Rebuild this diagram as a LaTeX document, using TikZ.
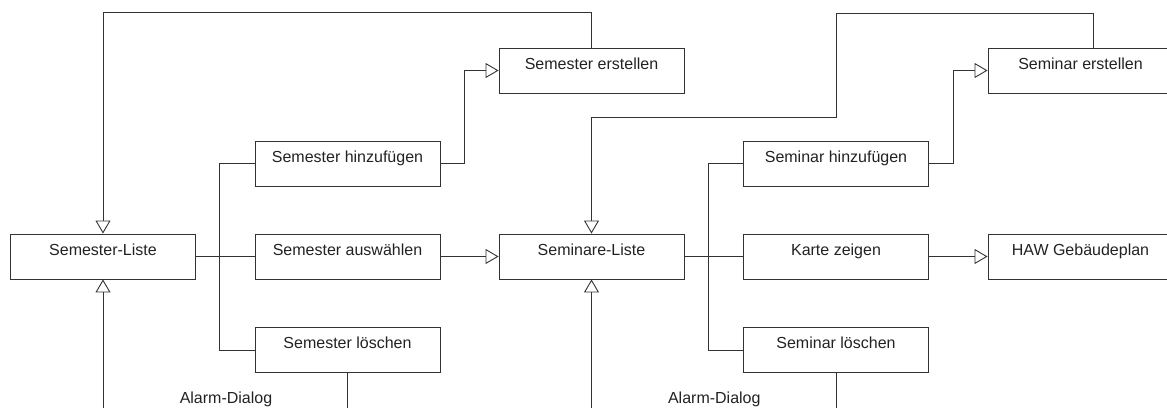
\documentclass[tikz,border=0pt]{standalone}
\usepackage{fontspec}
\setmainfont{Liberation Sans}
\usetikzlibrary{arrows.meta}
\definecolor{linec}{HTML}{333333}
\definecolor{textc}{HTML}{222222}
\tikzset{
  box/.style={draw=linec, line width=0.9pt, rectangle, minimum width=185pt, inner xsep=0pt, inner ysep=0pt,
    text height=21pt, text depth=24pt, font=\fontsize{16pt}{19pt}\selectfont, text=textc},
  conn/.style={draw=linec, line width=0.9pt},
  tri/.style={conn, -{Triangle[open, length=13pt, width=15pt, line width=0.9pt]}},
  lbl/.style={font=\fontsize{16pt}{19pt}\selectfont, text=textc, anchor=base, inner sep=0pt}
}
\begin{document}
\begin{tikzpicture}[x=1pt,y=-1pt]
\useasboundingbox (0,0) rectangle (1167,407);
\clip (0,0) rectangle (1167,407);
% nodes
\node[box] (sl) at (103,256.5) {Semester-Liste};
\node[box] (sh) at (347.5,163.5) {Semester hinzufügen};
\node[box] (sa) at (347.5,256.5) {Semester auswählen};
\node[box, minimum height=45pt, text depth=23.5pt] (sd) at (347.5,350) {Semester löschen};
\node[box] (se) at (591.5,70.5) {Semester erstellen};
\node[box] (nl) at (591.5,256.5) {Seminare-Liste};
\node[box] (nh) at (836,163.5) {Seminar hinzufügen};
\node[box] (nk) at (836,256.5) {Karte zeigen};
\node[box, text depth=23.5pt] (nd) at (836,350) {Seminar löschen};
\node[box] (ne) at (1080.5,70.5) {Seminar erstellen};
\node[box] (hg) at (1080.5,256.5) {HAW Gebäudeplan};
\node[lbl] (a1) at (226,403.5) {Alarm-Dialog};
\node[lbl] (a2) at (714.3,403.5) {Alarm-Dialog};
% free ends / bends
\coordinate (b1) at (103,420);
\coordinate (b2) at (591.5,420);
\coordinate (d1) at (347.5,420);
\coordinate (d2) at (836,420);
\coordinate (t1) at (1093,13);
\coordinate (t2) at (836.3,117.3);
% left group
\draw[conn] (sl.east) -- (sa.west);
\draw[conn] (sh.west) -- ++(-35,0) |- (sd.west);
\draw[tri] (sa.east) -- (nl.west);
\draw[tri] (sh.east) -- ++(24,0) |- (se.west);
\draw[tri] (se.north) -- ++(0,-35) -| (sl.north);
\draw[tri] (b1) -- (sl.south);
\draw[conn] (sd.south) -- (d1);
% right group
\draw[conn] (nl.east) -- (nk.west);
\draw[conn] (nh.west) -- ++(-34.5,0) |- (nd.west);
\draw[tri] (nk.east) -- (hg.west);
\draw[tri] (nh.east) -- ++(24,0) |- (ne.west);
\draw[tri] (ne.north -| t1) |- (t2 |- t1) -- (t2) -| (nl.north);
\draw[tri] (b2) -- (nl.south);
\draw[conn] (nd.south) -- (d2);
\end{tikzpicture}
\end{document}
